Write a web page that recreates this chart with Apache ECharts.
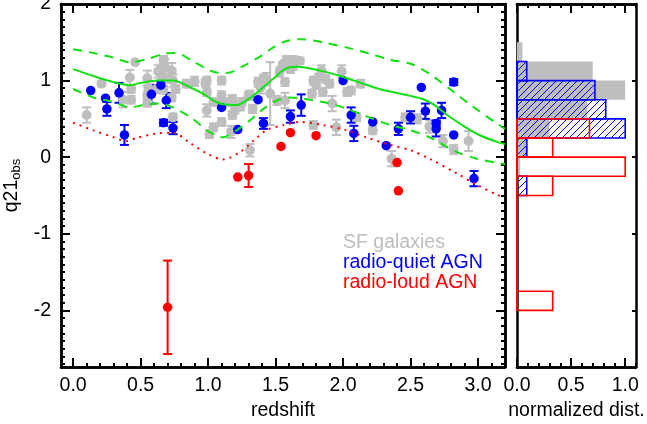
<!DOCTYPE html>
<html><head><meta charset="utf-8">
<script src="https://cdn.jsdelivr.net/npm/echarts@6/dist/echarts.min.js"></script>
<style>html,body{margin:0;padding:0;background:#fff}#c{width:647px;height:424px}</style>
</head><body><div id="c"></div>
<script>
// ---------------- DATA ----------------
// [redshift, q21_obs, error]
const sfGalaxies = [
[0.10,0.55,0.10],[0.21,0.96,0.03],[0.46,1.24,0],[0.42,1.04,0.10],[0.43,0.89,0.05],
[0.37,0.75,0.10],[0.43,0.75,0.05],[0.55,1.03,0.10],[0.55,0.71,0.05],[0.56,0.90,0.05],
[0.63,1.12,0.08],[0.67,1.27,0.05],[0.66,1.03,0.05],[0.73,1.13,0.10],[0.74,1.00,0.08],
[0.73,0.78,0.05],[0.74,0.52,0.05],[0.67,0.88,0.05],[0.68,1.18,0.10],[0.84,0.96,0.05],
[0.90,0.99,0.06],[0.98,0.97,0.05],[0.99,0.61,0.08],[1.01,0.30,0.05],[0.99,0.85,0.05],
[1.10,1.00,0.05],[1.04,0.72,0.05],[1.10,0.81,0.05],[1.16,0.72,0.05],[1.20,0.63,0.06],
[1.24,0.66,0.05],[1.18,0.55,0.05],[1.10,0.46,0.05],[1.04,0.39,0.05],[1.17,0.33,0.08],
[1.31,0.81,0.06],[1.33,0.63,0.05],[1.39,0.91,0.08],[1.43,1.02,0.08],[1.46,0.83,0.41],
[1.31,0.09,0.08],[1.51,0.74,0.06],[1.53,1.11,0.06],[1.56,1.19,0.06],[1.57,1.22,0.05],
[1.63,1.26,0.06],[1.68,1.26,0.04],[1.57,0.98,0.05],[1.57,0.74,0.10],[1.61,1.15,0.05],
[1.78,1.00,0.05],[1.84,1.13,0.07],[1.80,0.94,0.05],[1.85,0.85,0.05],[1.90,0.96,0.05],
[1.92,0.70,0.10],[1.77,0.83,0.05],[1.78,0.42,0.05],[1.95,0.39,0.10],[1.99,1.12,0.08],
[2.03,0.85,0.05],[2.06,0.87,0.05],[2.13,0.96,0.05],[2.10,0.52,0.05],[2.22,0.35,0.05],
[2.36,-0.02,0.10],[2.46,0.52,0.05],[2.55,0.50,0.06],[2.64,0.40,0.08],[2.74,0.21,0.08],
[2.82,0.10,0.06],[2.93,0.21,0.13],
[0.66,1.15,0.06],[0.71,1.02,0.05],[0.76,0.89,0.05],[0.55,0.81,0.05],[0.62,0.89,0.05],
[1.10,0.76,0.05],[1.18,0.76,0.05],[1.25,0.72,0.05],[1.30,0.80,0.05],[1.37,0.98,0.06],
[1.41,1.02,0.06],[1.82,1.04,0.05],[1.87,1.02,0.05],[1.58,1.26,0.06],[1.63,1.19,0.05],
[1.55,1.19,0.05],[0.99,1.00,0.05]
];
const radioQuietAGN = [
[0.13,0.87,0],[0.24,0.77,0],[0.25,0.63,0.09],[0.34,0.84,0.13],[0.38,0.29,0.13],
[0.58,0.82,0.12],[0.65,0.94,0.05],[0.69,0.74,0.10],[0.67,0.45,0.04],[0.74,0.38,0.08],
[1.10,0.65,0],[1.22,0.36,0],[1.37,0.75,0],[1.41,0.44,0.07],[1.61,0.53,0.08],
[1.69,0.68,0.14],[2.00,1.00,0],[2.06,0.55,0.10],[2.08,0.31,0.10],[2.22,0.46,0],
[2.32,0.15,0],[2.41,0.37,0.08],[2.50,0.52,0.08],[2.58,0.91,0],[2.61,0.60,0.10],
[2.73,0.61,0.10],[2.69,0.44,0.04],[2.69,0.37,0.10],[2.82,0.98,0.04],[2.82,0.29,0],
[2.97,-0.28,0.10]
];
const radioLoudAGN = [
[0.70,-1.96,0.61],[1.22,-0.26,0],[1.30,-0.24,0.15],[1.54,0.14,0],
[1.61,0.32,0],[1.80,0.28,0],[2.40,-0.07,0],[2.41,-0.44,0]
];
// curves [redshift, q21]
const sfMedian = [[0,1.15],[0.15,1.06],[0.3,0.98],[0.42,0.94],[0.5,0.97],[0.62,1.0],[0.74,1.0],[0.87,0.91],[0.97,0.82],[1.04,0.74],[1.11,0.69],[1.21,0.68],[1.31,0.77],[1.40,0.9],[1.48,1.02],[1.57,1.15],[1.66,1.18],[1.83,1.13],[1.98,1.06],[2.13,0.97],[2.27,0.89],[2.39,0.84],[2.5,0.8],[2.59,0.76],[2.67,0.69],[2.78,0.54],[2.9,0.4],[3.02,0.28],[3.14,0.2],[3.2,0.17]];
const sfUpper = [[0,1.41],[0.15,1.36],[0.3,1.30],[0.42,1.24],[0.55,1.28],[0.67,1.35],[0.76,1.36],[0.9,1.24],[1.05,1.11],[1.14,1.10],[1.26,1.19],[1.39,1.32],[1.48,1.43],[1.57,1.51],[1.68,1.54],[1.85,1.50],[2.03,1.43],[2.2,1.35],[2.35,1.27],[2.5,1.22],[2.64,1.09],[2.82,0.85],[2.97,0.65],[3.14,0.44],[3.2,0.37]];
const sfLower = [[0,0.89],[0.15,0.78],[0.3,0.72],[0.42,0.65],[0.52,0.68],[0.64,0.70],[0.74,0.65],[0.87,0.52],[1.01,0.33],[1.11,0.26],[1.21,0.35],[1.31,0.48],[1.41,0.63],[1.51,0.74],[1.6,0.78],[1.85,0.72],[2.0,0.65],[2.15,0.55],[2.35,0.42],[2.5,0.35],[2.64,0.26],[2.84,0.07],[2.99,-0.02],[3.16,-0.08],[3.2,-0.09]];
const rlLimit = [[0,0.45],[0.15,0.35],[0.3,0.26],[0.39,0.21],[0.47,0.25],[0.62,0.31],[0.74,0.32],[0.87,0.18],[0.99,0.05],[1.11,-0.03],[1.24,0.07],[1.34,0.22],[1.43,0.35],[1.56,0.42],[1.68,0.46],[1.85,0.42],[2.03,0.35],[2.17,0.26],[2.35,0.16],[2.5,0.09],[2.64,-0.02],[2.84,-0.21],[2.99,-0.36],[3.14,-0.49],[3.2,-0.53]];
// histogram: lower bin edges (width 0.25) and normalized counts
const histBinStart = [-2.0,-1.75,-1.5,-1.25,-1.0,-0.75,-0.5,-0.25,0.0,0.25,0.5,0.75,1.0,1.25];
const histBinWidth = 0.25;
const histSF = [0,0,0,0,0,0,0,0.03,0.10,0.30,0.65,1.0,0.70,0.05];
const histRQ = [0,0,0,0,0,0,0.09,0,0.09,1.0,0.82,0.72,0.09,0];
const histRL = [0.33,0,0,0,0,0,0.33,1.0,0.33,0.67,0,0,0,0];
// ticks
const xMajor = [0,0.5,1,1.5,2,2.5,3];
const yMajor = [-2,-1,0,1,2];
const histXMajor = [0,0.5,1];
const histYMajor = [-2,-1,0,1];
const legendLabels = ['SF galaxies','radio-quiet AGN','radio-loud AGN'];
// --------------------------------------
const GRAY='#bebebe', BLUE='#0000ff', RED='#ff0000', GREEN='#11e011';
const FONT='Liberation Sans', FS=19.5;
const XMIN=-0.09, XMAX=3.2, YMIN=-2.74, YMAX=2.0, HXMAX=1.1;
function range(a,b,s){const r=[];for(let i=Math.round(a/s);i<=Math.round(b/s);i++)r.push(+(i*s).toFixed(2));return r;}
const xMinor=range(0,3.2,0.1), yMinor=range(-2.7,2.0,0.1), hxMinor=range(0,1.1,0.1);

function xAx(grid,pos,min,max,ticks,len,labels,name){
  const a={type:'value',gridIndex:grid,position:pos,min:min,max:max,
    axisLine:{show:true,onZero:false,lineStyle:{color:'#000',width:2.5}},
    axisTick:{show:true,inside:true,length:len,customValues:ticks,lineStyle:{color:'#000',width:2}},
    axisLabel:{show:!!labels,customValues:ticks,margin:9,color:'#000',fontFamily:FONT,fontSize:FS,
      formatter:v=>(+v).toFixed(1)},
    splitLine:{show:false}};
  if(name){a.name=name;a.nameLocation='middle';a.nameGap=29;a.nameTextStyle={color:'#000',fontFamily:FONT,fontSize:FS};}
  return a;
}
function yAx(grid,pos,ticks,len,labels){
  return {type:'value',gridIndex:grid,position:pos,min:YMIN,max:YMAX,
    axisLine:{show:true,onZero:false,lineStyle:{color:'#000',width:2.5}},
    axisTick:{show:ticks.length>0,inside:true,length:len,customValues:ticks,lineStyle:{color:'#000',width:2}},
    axisLabel:{show:!!labels,customValues:ticks,margin:10,color:'#000',fontFamily:FONT,fontSize:FS,
      formatter:v=>String(Math.round(v))},
    splitLine:{show:false}};
}
const xAxes=[
  xAx(0,'bottom',XMIN,XMAX,xMajor,9,true,'redshift'),
  xAx(0,'bottom',XMIN,XMAX,xMinor,4,false),
  xAx(0,'top',XMIN,XMAX,xMajor,9,false),
  xAx(0,'top',XMIN,XMAX,xMinor,4,false),
  xAx(1,'bottom',0,HXMAX,histXMajor,9,true,'normalized dist.'),
  xAx(1,'bottom',0,HXMAX,hxMinor,4,false),
  xAx(1,'top',0,HXMAX,histXMajor,9,false),
  xAx(1,'top',0,HXMAX,hxMinor,4,false)
];
const y0=yAx(0,'left',yMajor,9,true);
y0.name='q21{s|obs}';y0.nameLocation='middle';y0.nameGap=30;y0.nameRotate=90;
y0.nameTextStyle={color:'#000',fontFamily:FONT,fontSize:FS,rich:{s:{fontFamily:FONT,fontSize:13,color:'#000',padding:[9,0,0,0]}}};
const yAxes=[
  y0,
  yAx(0,'left',yMinor,4,false),
  yAx(0,'right',yMajor,9,false),
  yAx(0,'right',yMinor,4,false),
  yAx(1,'left',[],0,false),
  yAx(1,'right',histYMajor,4,false)
];

function errRender(color){
  return function(params,api){
    const x=api.value(0),y=api.value(1),e=api.value(2);
    if(!e) return {type:'group',children:[]};
    const t=api.coord([x,y+e]),b=api.coord([x,y-e]),w=4.5;
    const st={stroke:color,lineWidth:2};
    return {type:'group',children:[
      {type:'line',shape:{x1:t[0],y1:t[1],x2:b[0],y2:b[1]},style:st},
      {type:'line',shape:{x1:t[0]-w,y1:t[1],x2:t[0]+w,y2:t[1]},style:st},
      {type:'line',shape:{x1:b[0]-w,y1:b[1],x2:b[0]+w,y2:b[1]},style:st}
    ]};
  };
}
function errSeries(data,color){
  return {type:'custom',xAxisIndex:0,yAxisIndex:0,data:data,renderItem:errRender(color),
    encode:{x:0,y:1},silent:true,clip:true};
}
function ptSeries(data,color,size){
  return {type:'scatter',xAxisIndex:0,yAxisIndex:0,data:data.map(d=>[d[0],d[1]]),
    symbol:'circle',symbolSize:size,itemStyle:{color:color,opacity:1},silent:true};
}
function lineSeries(data,type,dash,w){
  return {type:'line',xAxisIndex:0,yAxisIndex:0,data:data,symbol:'none',smooth:0.3,silent:true,
    lineStyle:{color:type,width:w,type:dash}};
}
function binRect(api,start,val){
  const p0=api.coord([0,start]),p1=api.coord([val,start+histBinWidth]);
  return {x:p0[0],y:p1[1],w:p1[0]-p0[0],h:p0[1]-p1[1]};
}
function histData(vals){return histBinStart.map((s,i)=>[vals[i],s]);}
const histGray={type:'custom',xAxisIndex:4,yAxisIndex:4,data:histData(histSF),encode:{x:0,y:1},silent:true,
  renderItem:(p,api)=>{const v=api.value(0);if(!v)return {type:'group',children:[]};
    const r=binRect(api,api.value(1),v);
    return {type:'rect',shape:{x:r.x,y:r.y,width:r.w,height:r.h},style:{fill:GRAY}};}};
const histBlue={type:'custom',xAxisIndex:4,yAxisIndex:4,data:histData(histRQ),encode:{x:0,y:1},silent:true,
  renderItem:(p,api)=>{const v=api.value(0);if(!v)return {type:'group',children:[]};
    const r=binRect(api,api.value(1),v);
    const x0=r.x,x1=r.x+r.w,ya=r.y,yb=r.y+r.h,step=7,ch=[];
    for(let c=Math.ceil((x0+ya)/step)*step;c<=x1+yb;c+=step){
      const xa=Math.max(x0,c-yb),xb=Math.min(x1,c-ya);
      if(xb>xa) ch.push({type:'line',shape:{x1:xa,y1:c-xa,x2:xb,y2:c-xb},style:{stroke:BLUE,lineWidth:1}});
    }
    ch.push({type:'rect',shape:{x:r.x,y:r.y,width:r.w,height:r.h},style:{fill:'none',stroke:BLUE,lineWidth:1.6}});
    return {type:'group',children:ch};}};
const histRed={type:'custom',xAxisIndex:4,yAxisIndex:4,data:histData(histRL),encode:{x:0,y:1},silent:true,
  renderItem:(p,api)=>{const v=api.value(0);if(!v)return {type:'group',children:[]};
    const r=binRect(api,api.value(1),v);
    return {type:'rect',shape:{x:r.x,y:r.y,width:r.w,height:r.h},style:{fill:'none',stroke:RED,lineWidth:1.6}};}};
function baseLine(vals,color){
  const idx=vals.map((v,i)=>v>0?i:-1).filter(i=>i>=0);
  const lo=histBinStart[idx[0]],hi=histBinStart[idx[idx.length-1]]+histBinWidth;
  return {type:'line',xAxisIndex:4,yAxisIndex:4,data:[[0,lo],[0,hi]],symbol:'none',silent:true,
    lineStyle:{color:color,width:2},z:3};
}

const chart=echarts.init(document.getElementById('c'),null,{renderer:'canvas'});
chart.setOption({
  animation:false,backgroundColor:'#fff',
  grid:[
    {left:61,top:4,width:444,height:363,containLabel:false,outerBoundsMode:'none'},
    {left:517,top:4,width:119,height:363,containLabel:false,outerBoundsMode:'none'}
  ],
  xAxis:xAxes,yAxis:yAxes,
  graphic:legendLabels.map((t,i)=>({type:'text',x:343,y:243+20*i,silent:true,
    style:{text:t,fill:[GRAY,BLUE,RED][i],font:FS+'px "'+FONT+'"',verticalAlign:'middle',textVerticalAlign:'middle'}})),
  series:[
    errSeries(sfGalaxies,GRAY),ptSeries(sfGalaxies,GRAY,10),
    lineSeries(sfUpper,GREEN,[9,7],2),lineSeries(sfMedian,GREEN,'solid',2),lineSeries(sfLower,GREEN,[9,7],2),
    lineSeries(rlLimit,RED,[2,5],2),
    errSeries(radioQuietAGN,BLUE),ptSeries(radioQuietAGN,BLUE,9.5),
    errSeries(radioLoudAGN,RED),ptSeries(radioLoudAGN,RED,9.5),
    histGray,histBlue,histRed,baseLine(histRQ,BLUE),baseLine(histRL,RED)
  ]
});
</script></body></html>
